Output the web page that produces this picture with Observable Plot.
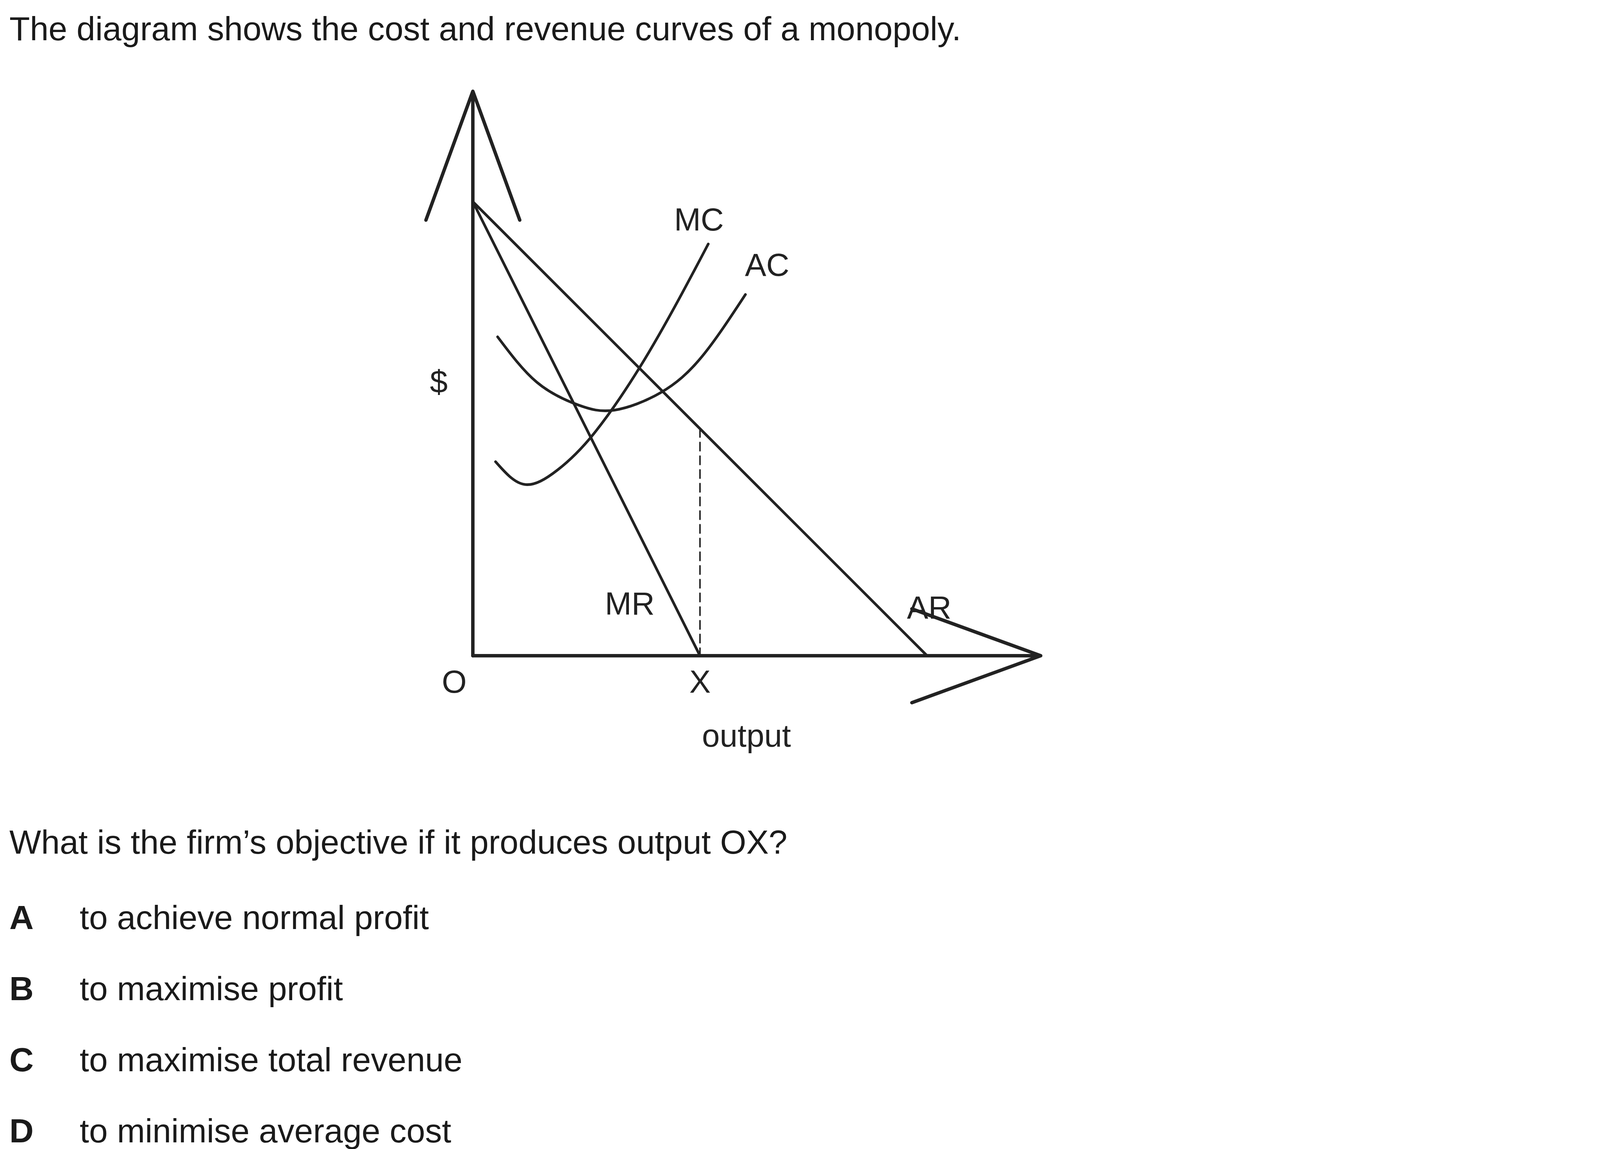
<!DOCTYPE html>
<html><head><meta charset="utf-8">
<script src="https://cdn.jsdelivr.net/npm/d3@7"></script>
<script src="https://cdn.jsdelivr.net/npm/@observablehq/plot@0.6"></script>
<style>
body{margin:0;background:#fff;font-family:"Liberation Sans",Arial,sans-serif;color:#1a1a1a}
.t{position:absolute;font-size:86px;white-space:nowrap;line-height:1}
b{position:absolute;left:0}
</style></head><body>
<div id="chart" style="position:absolute;left:0;top:0"></div>
<div class="t" style="left:24px;top:30px">The diagram shows the cost and revenue curves of a monopoly.</div>
<div class="t" style="left:24px;top:2112px">What is the firm’s objective if it produces output OX?</div>
<div id="opts"></div>
<script>
// curve data (units: x = output, y = $)
const ar = [[0, 44], [44, 0]]
const mr = [[0, 44], [22, 0]]
const mc = [[2.2, 18.8], [5, 16.6], [8.2, 18], [11.7, 21.5], [16.2, 28], [20.2, 35], [22.8, 39.9]]
const ac = [[2.4, 30.9], [6.2, 26.5], [10.2, 24.3], [13.7, 23.8], [18.2, 25.5], [22.2, 29], [26.4, 35]]
const drop = [[22, 22], [22, 0]]
const labels = [
  {x: 21.9, y: 42.2, t: "MC"}, {x: 28.5, y: 37.8, t: "AC"},
  {x: 15.2, y: 5.0, t: "MR"}, {x: 44.2, y: 4.6, t: "AR"},
  {x: -3.3, y: 26.5, t: "$"}, {x: -1.8, y: -2.6, t: "O"},
  {x: 22, y: -2.6, t: "X"}, {x: 26.5, y: -7.8, t: "output"}
]
const options = [["A", "to achieve normal profit"], ["B", "to maximise profit"],
  ["C", "to maximise total revenue"], ["D", "to minimise average cost"]]

const pt = a => a.map(([x, y]) => ({x, y}))
const sw = 7, col = "#222"

let chart = Plot.plot({
  width: 4201, height: 2000,
  marginLeft: 1241, marginRight: 1469, marginTop: 239, marginBottom: 279,
  x: {domain: [0, 55], axis: null},
  y: {domain: [0, 54.7], axis: null},
  style: {fontFamily: "Liberation Sans, Arial, sans-serif", background: "white"},
  marks: [
    Plot.arrow([{x1: 0, y1: 0, x2: 0, y2: 54.7}, {x1: 0, y1: 0, x2: 55, y2: 0}],
      {x1: "x1", y1: "y1", x2: "x2", y2: "y2", stroke: col, strokeWidth: 9, headLength: 60, headAngle: 40}),
    Plot.line(pt(ar), {x: "x", y: "y", stroke: col, strokeWidth: sw}),
    Plot.line(pt(mr), {x: "x", y: "y", stroke: col, strokeWidth: sw}),
    Plot.line(pt(mc), {x: "x", y: "y", stroke: col, strokeWidth: sw, curve: "natural"}),
    Plot.line(pt(ac), {x: "x", y: "y", stroke: col, strokeWidth: sw, curve: "natural"}),
    Plot.line(pt(drop), {x: "x", y: "y", stroke: col, strokeWidth: 4, strokeDasharray: "22,14"}),
    Plot.text(labels, {x: "x", y: "y", text: "t", fontSize: 84, fill: col})
  ]
})
d3.select('#chart').append(() => chart)

const tops = [2305, 2487, 2669, 2851]
options.forEach(([k, v], i) => {
  d3.select('#opts').append('div').attr('class', 't')
    .style('left', '24px').style('top', tops[i] + 'px').style('padding-left', '180px')
    .html(`<b>${k}</b>${v}`)
})
</script></body></html>
